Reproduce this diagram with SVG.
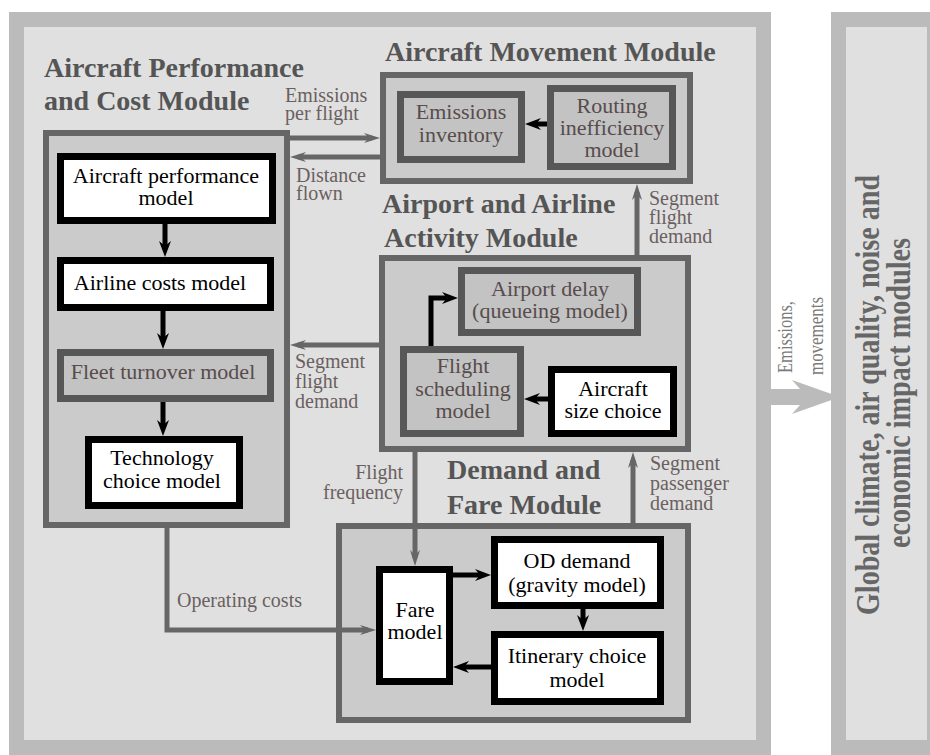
<svg xmlns="http://www.w3.org/2000/svg" width="930" height="755" viewBox="0 0 930 755">
<style>
.panel{fill:#e0e0e0;stroke:#bbbbbb;stroke-width:15}
.mod{fill:#cbcbcb;stroke:#666666;stroke-width:6}
.gnode{fill:#c3c3c3;stroke:#575757;stroke-width:7}
.wnode{fill:#ffffff;stroke:#000000;stroke-width:7}
.title{font-family:"Liberation Serif","Times New Roman",serif;font-weight:bold;font-size:28px;fill:#555555}
.nt{font-family:"Liberation Serif","Times New Roman",serif;font-size:22px;fill:#000000;text-anchor:middle}
.gt{font-family:"Liberation Serif","Times New Roman",serif;font-size:22px;fill:#574c4c;text-anchor:middle}
.lbl{font-family:"Liberation Serif","Times New Roman",serif;font-size:20px;fill:#6b6060}
.big{font-family:"Liberation Serif","Times New Roman",serif;font-weight:bold;font-size:34px;fill:#666666;text-anchor:middle}
.sm{font-family:"Liberation Serif","Times New Roman",serif;font-size:20px;fill:#7a7a7a}
.gc{fill:none;stroke:#666666;stroke-width:5;marker-end:url(#ag)}
.bc{fill:none;stroke:#000000;stroke-width:5;marker-end:url(#ab)}
</style>
<defs>
<marker id="ag" viewBox="0 0 16 10" refX="8" refY="5" markerWidth="16" markerHeight="10" markerUnits="userSpaceOnUse" orient="auto"><path d="M0,0 L16,5 L0,10 L5,5 z" fill="#666666"/></marker>
<marker id="ab" viewBox="0 0 16 12" refX="8" refY="6" markerWidth="16" markerHeight="12" markerUnits="userSpaceOnUse" orient="auto"><path d="M0,0 L16,6 L0,12 L5,6 z" fill="#000000"/></marker>
</defs>
<rect width="930" height="755" fill="#ffffff"/>
<g id="main-panel">
<rect class="panel" x="16.5" y="19.5" width="747" height="728"/>
</g>
<g id="impact-panel">
<rect class="panel" x="838.5" y="19.5" width="96" height="728"/>
<text class="big" transform="translate(879,395) rotate(-90)" textLength="440" lengthAdjust="spacingAndGlyphs">Global climate, air quality, noise and</text>
<text class="big" transform="translate(910,393) rotate(-90)" textLength="310" lengthAdjust="spacingAndGlyphs">economic impact modules</text>
</g>
<g id="perf-module">
<text class="title" x="44" y="77">Aircraft Performance</text>
<text class="title" x="44" y="110">and Cost Module</text>
<rect class="mod" x="46" y="133" width="241" height="392"/>
</g>
<g id="aircraft-performance">
<rect class="wnode" x="60.5" y="156.5" width="212" height="64"/>
<text class="nt" x="166" y="183">Aircraft performance</text>
<text class="nt" x="166" y="205">model</text>
</g>
<g id="airline-costs">
<rect class="wnode" x="60.5" y="260.5" width="210" height="47"/>
<text class="nt" x="160" y="290">Airline costs model</text>
</g>
<g id="fleet-turnover">
<rect class="gnode" x="60.5" y="352.5" width="210" height="46"/>
<text class="gt" x="163" y="379">Fleet turnover model</text>
</g>
<g id="technology-choice">
<rect class="wnode" x="88.5" y="439.5" width="151" height="66"/>
<text class="nt" x="162" y="465">Technology</text>
<text class="nt" x="162" y="488">choice model</text>
</g>
<g id="movement-module">
<text class="title" x="385" y="61">Aircraft Movement Module</text>
<rect class="mod" x="383" y="75" width="307" height="106"/>
</g>
<g id="emissions-inventory">
<rect class="gnode" x="400.5" y="94.5" width="121" height="65"/>
<text class="gt" x="461" y="119">Emissions</text>
<text class="gt" x="461" y="142">inventory</text>
</g>
<g id="routing-inefficiency">
<rect class="gnode" x="550.5" y="88.5" width="122" height="78"/>
<text class="gt" x="612" y="113">Routing</text>
<text class="gt" x="612" y="135">inefficiency</text>
<text class="gt" x="612" y="157">model</text>
</g>
<g id="activity-module">
<text class="title" x="382" y="213">Airport and Airline</text>
<text class="title" x="384" y="247">Activity Module</text>
<rect class="mod" x="382" y="258" width="306" height="191"/>
</g>
<g id="airport-delay">
<rect class="gnode" x="461.5" y="270.5" width="176" height="62"/>
<text class="gt" x="550" y="296">Airport delay</text>
<text class="gt" x="550" y="318">(queueing model)</text>
</g>
<g id="flight-scheduling">
<rect class="gnode" x="403.5" y="349.5" width="117" height="84"/>
<text class="gt" x="463" y="373">Flight</text>
<text class="gt" x="463" y="396">scheduling</text>
<text class="gt" x="463" y="418">model</text>
</g>
<g id="aircraft-size">
<rect class="wnode" x="551.5" y="369.5" width="122" height="64"/>
<text class="nt" x="613" y="396">Aircraft</text>
<text class="nt" x="613" y="418">size choice</text>
</g>
<g id="demand-module">
<text class="title" x="447" y="479">Demand and</text>
<text class="title" x="447" y="514">Fare Module</text>
<rect class="mod" x="339" y="526" width="349" height="194"/>
</g>
<g id="fare-model">
<rect class="wnode" x="379.5" y="569.5" width="70" height="112"/>
<text class="nt" x="415" y="617">Fare</text>
<text class="nt" x="415" y="639">model</text>
</g>
<g id="od-demand">
<rect class="wnode" x="494.5" y="539.5" width="166" height="66"/>
<text class="nt" x="577" y="568">OD demand</text>
<text class="nt" x="577" y="592">(gravity model)</text>
</g>
<g id="itinerary-choice">
<rect class="wnode" x="494.5" y="634.5" width="166" height="67"/>
<text class="nt" x="577" y="663">Itinerary choice</text>
<text class="nt" x="577" y="687">model</text>
</g>
<g id="connectors">
<path class="gc" d="M290,138 H372"/>
<path class="gc" d="M380,157 H298"/>
<path class="gc" d="M637,255 V192"/>
<path class="gc" d="M379,345 H298"/>
<path class="gc" d="M415,452 V558"/>
<path class="gc" d="M633,523 V460"/>
<path class="gc" d="M167,528 V630 H368"/>
<path class="bc" d="M165,224 V249"/>
<path class="bc" d="M163,311 V341"/>
<path class="bc" d="M163,402 V428"/>
<path class="bc" d="M547,124 H533"/>
<path class="bc" d="M548,399 H532"/>
<path class="bc" d="M431,346 V298 H450"/>
<path class="bc" d="M453,575 H483"/>
<path class="bc" d="M583,609 V623"/>
<path class="bc" d="M491,667 H461"/>
<polygon points="762,389 800,389 792,380 840,397 792,414 800,405 762,405" fill="#bbbbbb"/>
<text class="lbl" x="285" y="102">Emissions</text>
<text class="lbl" x="285" y="120">per flight</text>
<text class="lbl" x="296" y="182">Distance</text>
<text class="lbl" x="296" y="200">flown</text>
<text class="lbl" x="649" y="205">Segment</text>
<text class="lbl" x="649" y="224">flight</text>
<text class="lbl" x="649" y="243">demand</text>
<text class="lbl" x="295" y="368">Segment</text>
<text class="lbl" x="295" y="388">flight</text>
<text class="lbl" x="295" y="408">demand</text>
<text class="lbl" x="403" y="479" text-anchor="end">Flight</text>
<text class="lbl" x="403" y="499" text-anchor="end">frequency</text>
<text class="lbl" x="650" y="470">Segment</text>
<text class="lbl" x="650" y="490">passenger</text>
<text class="lbl" x="650" y="510">demand</text>
<text class="lbl" x="177" y="607">Operating costs</text>
<text class="sm" transform="translate(792,373) rotate(-90)" textLength="72" lengthAdjust="spacingAndGlyphs">Emissions,</text>
<text class="sm" transform="translate(823,375) rotate(-90)" textLength="78" lengthAdjust="spacingAndGlyphs">movements</text>
</g>
</svg>
